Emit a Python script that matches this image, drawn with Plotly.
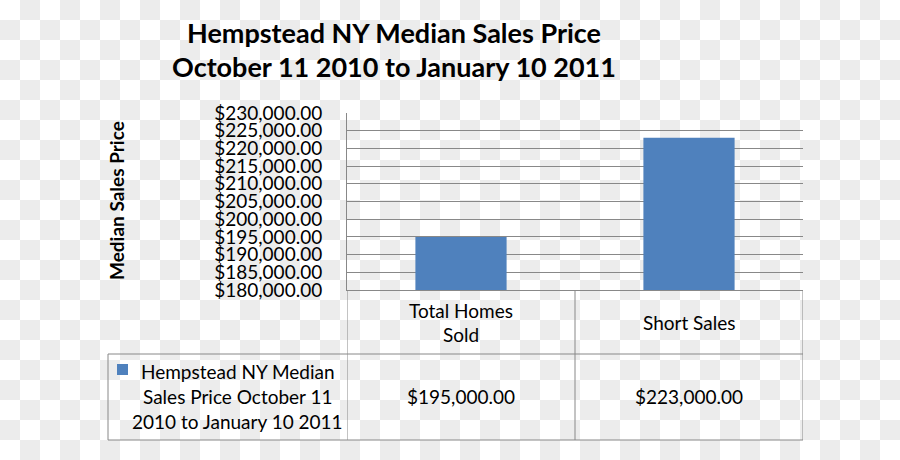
import base64
import plotly.graph_objects as go

# Data
categories = ["Total Homes Sold", "Short Sales"]
category_labels = [["Total Homes", "Sold"], ["Short Sales"]]
median_price = [195000, 223000]
series_name = "Hempstead NY Median Sales Price October 11 2010 to January 10 2011"
series_label = ["Hempstead NY Median", "Sales Price October 11", "2010 to January 10 2011"]
title_lines = ["Hempstead NY Median Sales Price", "October 11 2010 to January 10 2011"]
y_min, y_max, y_step = 180000, 230000, 5000

W, H = 900, 460
FONT = "Lato"
GRID = "#888888"
BAR = "#4F81BD"


def py(y):
    # pixel row (from top) -> paper fraction
    return 1 - y / H


def checkerboard():
    svg = (
        f'<svg xmlns="http://www.w3.org/2000/svg" width="{W}" height="{H}" '
        f'preserveAspectRatio="none">'
        '<defs><pattern id="c" width="40" height="40" patternUnits="userSpaceOnUse">'
        '<rect width="40" height="40" fill="#ffffff"/>'
        '<rect x="20" y="0" width="20" height="20" fill="#ececec"/>'
        '<rect x="0" y="20" width="20" height="20" fill="#ececec"/>'
        '</pattern></defs>'
        f'<rect width="{W}" height="{H}" fill="url(#c)"/></svg>'
    )
    return "data:image/svg+xml;base64," + base64.b64encode(svg.encode()).decode()


def label(text, x, y, size, xref="paper", angle=0):
    return dict(text=text, xref=xref, yref="paper", x=x, y=y,
                xanchor="center", yanchor="middle", textangle=angle,
                showarrow=False, font=dict(size=size, color="black", family=FONT))


fig = go.Figure()
fig.add_trace(go.Bar(
    x=categories,
    y=median_price,
    name=series_name,
    marker=dict(color=BAR, line=dict(width=0)),
    width=0.4,
    showlegend=False,
))

# table rows / columns (pixels)
x_left, x_plot, x_right = 108, 347, 803
y_axis, y_row, y_bottom = 290, 354, 440

shapes = []
line = dict(color=GRID, width=1)
for yy in (y_row, y_bottom):
    shapes.append(dict(type="line", xref="paper", yref="paper",
                       x0=x_left / W, x1=x_right / W, y0=py(yy), y1=py(yy), line=line))
for xx in (-0.5, 0.5, 1.5):
    shapes.append(dict(type="line", xref="x", yref="paper",
                       x0=xx, x1=xx, y0=py(y_bottom), y1=py(y_axis), line=line))
shapes.append(dict(type="line", xref="paper", yref="paper",
                   x0=x_left / W, x1=x_left / W, y0=py(y_bottom), y1=py(y_row), line=line))
# legend key
shapes.append(dict(type="rect", xref="paper", yref="paper",
                   x0=117 / W, x1=128 / W, y0=py(375), y1=py(364),
                   fillcolor=BAR, line=dict(width=0)))

annotations = []
for i, t in enumerate(title_lines):
    annotations.append(label(f"<b>{t}</b>", 394 / W, py(32 + 35 * i), 27))
annotations.append(label("<b>Median Sales Price</b>", 116 / W, py(201), 19, angle=-90))
for cat, lines in zip(categories, category_labels):
    y0 = 322 - 12 * (len(lines) - 1)
    for j, t in enumerate(lines):
        annotations.append(label(t, cat, py(y0 + 24 * j), 19, xref="x"))
for cat, v in zip(categories, median_price):
    annotations.append(label(f"${v:,.2f}", cat, py(396), 19, xref="x"))
for j, t in enumerate(series_label):
    annotations.append(label(t, 238 / W, py(371 + 25 * j), 19))

fig.update_layout(
    width=W,
    height=H,
    margin=dict(l=0, r=0, t=0, b=0, autoexpand=False),
    paper_bgcolor="white",
    plot_bgcolor="rgba(0,0,0,0)",
    font=dict(family=FONT, color="black"),
    images=[dict(source=checkerboard(), xref="paper", yref="paper", x=0, y=1,
                 sizex=1, sizey=1, xanchor="left", yanchor="top",
                 sizing="stretch", layer="below")],
    xaxis=dict(
        domain=[x_plot / W, x_right / W],
        range=[-0.5, 1.5],
        showticklabels=False,
        showgrid=False,
        showline=True,
        linecolor=GRID,
        linewidth=1,
        automargin=False,
        fixedrange=True,
    ),
    yaxis=dict(
        domain=[py(y_axis), py(113)],
        range=[y_min, y_max],
        dtick=y_step,
        tick0=y_min,
        tickprefix="$",
        tickformat=",.2f",
        tickfont=dict(size=19, color="black", family=FONT),
        ticklabelstandoff=20,
        showgrid=True,
        gridcolor=GRID,
        gridwidth=1,
        showline=True,
        linecolor=GRID,
        linewidth=1,
        zeroline=False,
        automargin=False,
        fixedrange=True,
    ),
    shapes=shapes,
    annotations=annotations,
)

fig.write_html(
    "out.html",
    config={"displayModeBar": False},
    post_script="document.body.style.margin = '0';",
)
